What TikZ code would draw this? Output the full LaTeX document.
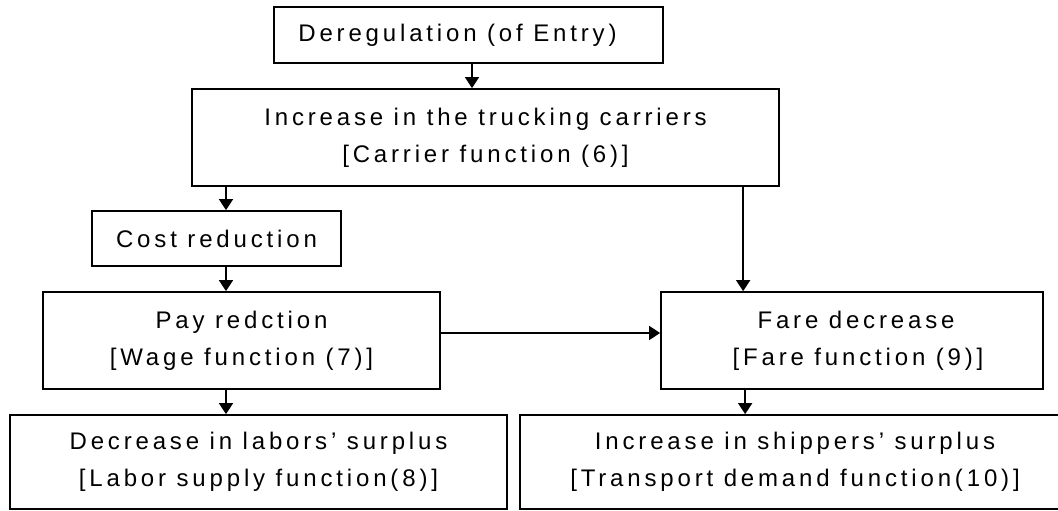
\documentclass[tikz,border=0pt]{standalone}
\usepackage{fontspec}
\setmainfont{Liberation Sans}[LetterSpace=16]
\usetikzlibrary{arrows.meta}
\begin{document}
\begin{tikzpicture}[x=1pt,y=-1pt,
  box/.style={draw=black, line width=1.7pt, inner sep=0pt, align=center,
              font=\fontsize{24}{37}\selectfont},
  arr/.style={line width=1.5pt, -{Triangle[length=11pt,width=14pt]}}]
\useasboundingbox (0,0) rectangle (1058,511);
\begin{scope}
\clip (0,0) rectangle (1058,511);
\node[box, minimum width=389pt, minimum height=56pt] (top) at (468.5,35)
  {Deregulation (of Entry)\hspace*{22pt}};
\node[box, minimum width=587pt, minimum height=97pt] (carr) at (485.5,137.5)
  {Increase in the trucking carriers\\{}[Carrier function (6)]};
\node[box, minimum width=249pt, minimum height=55pt] (cost) at (216.5,238.5)
  {Cost reduction};
\node[box, minimum width=397pt, minimum height=97pt] (pay) at (241.5,340.5)
  {Pay redction\\{}[Wage function (7)]};
\node[box, minimum width=382pt, minimum height=97pt] (fare) at (852,340.5)
  {\hspace*{8pt}Fare decrease\\\hspace*{12pt}[Fare function (9)]};
\node[box, minimum width=497pt, minimum height=94pt] (labor) at (258.5,462)
  {Decrease in labors' surplus\\{}[Labor supply function(8)]};
\node[box, minimum width=550pt, minimum height=94pt] (ship) at (795,462)
  {Increase in shippers' surplus\\{}[Transport demand function(10)]};
\end{scope}
\coordinate (c1) at ([xshift=9.5pt]cost.north);
\coordinate (f0) at ([xshift=83pt]fare.north west);
\coordinate (f1) at ([xshift=85pt]fare.south west);
\draw[arr] ([xshift=3.5pt]top.south) -- ([xshift=3.5pt]top.south |- carr.north);
\draw[arr] (carr.south -| c1) -- (c1);
\draw[arr] (carr.south -| f0) -- (f0);
\draw[arr] (cost.south -| c1) -- (c1 |- pay.north);
\draw[arr] (pay.south -| c1) -- (c1 |- labor.north);
\draw[arr] ([yshift=7.5pt]pay.east) -- ([yshift=7.5pt]pay.east -| fare.west);
\draw[arr] (f1) -- (f1 |- ship.north);
\end{tikzpicture}
\end{document}
